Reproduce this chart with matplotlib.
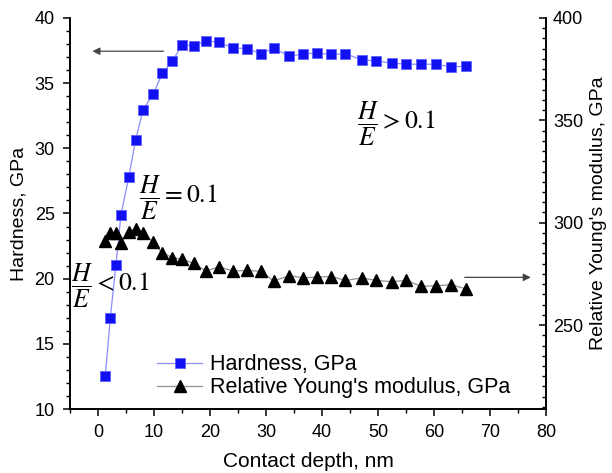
import matplotlib
matplotlib.use('Agg')
import matplotlib.pyplot as plt
from matplotlib.ticker import MultipleLocator

plt.rcParams['font.family'] = ['Liberation Sans', 'DejaVu Sans']
plt.rcParams['mathtext.fontset'] = 'stix'

# contact depth, nm
depth = [1.3, 2.2, 3.2, 4.1, 5.5, 6.7, 8.05, 9.9, 11.5, 13.3, 15.05, 17.2, 19.25,
         21.6, 24.1, 26.7, 29.2, 31.35, 34.2, 36.65, 39.1, 41.7, 44.2, 47.1,
         49.7, 52.45, 55.1, 57.75, 60.3, 63.1, 65.8]
# hardness, GPa
hardness = [12.5, 17.0, 21.05, 24.9, 27.8, 30.6, 32.95, 34.2, 35.75, 36.7, 37.95,
            37.85, 38.25, 38.15, 37.7, 37.65, 37.25, 37.7, 37.05, 37.25, 37.3,
            37.2, 37.25, 36.8, 36.7, 36.55, 36.45, 36.45, 36.45, 36.25, 36.3]
# relative Young's modulus, GPa
modulus = [291.2, 295.1, 295.0, 290.1, 295.3, 297.1, 295.0, 290.4, 285.2, 283.0,
           282.1, 280.1, 276.4, 278.4, 276.4, 276.7, 276.2, 271.6, 274.1, 273.1,
           273.4, 273.7, 271.8, 273.0, 271.8, 271.2, 271.8, 268.9, 269.2, 269.7,
           267.6]

fig = plt.figure(figsize=(6.12, 4.73), dpi=100)
ax = fig.add_axes([0.1144, 0.1353, 0.7776, 0.8267])
ax2 = ax.twinx()

h1, = ax.plot(depth, hardness, color='#8c8cff', lw=0.9, marker='s', ms=6.8,
              mfc='#1010f0', mec='#6060ff', mew=0.6, label='Hardness, GPa')
h2, = ax2.plot(depth, modulus, color='#909090', lw=0.9, marker='^', ms=8.5,
               mfc='black', mec='black', label="Relative Young's modulus, GPa")

ax.set_xlim(-5, 80)
ax.set_ylim(10, 40)
ax2.set_ylim(209, 400)

ax.xaxis.set_major_locator(MultipleLocator(10))
ax.xaxis.set_minor_locator(MultipleLocator(5))
ax.yaxis.set_major_locator(MultipleLocator(5))
ax.yaxis.set_minor_locator(MultipleLocator(1))
ax2.yaxis.set_major_locator(MultipleLocator(50))
ax2.yaxis.set_minor_locator(MultipleLocator(5))

for a in (ax, ax2):
    a.spines['top'].set_visible(False)
    for s in a.spines.values():
        s.set_linewidth(1.2)
ax.tick_params(axis='both', which='major', direction='out', length=5, width=1.1,
               labelsize=13, pad=6, top=False)
ax.tick_params(axis='both', which='minor', direction='out', length=3, width=1, top=False)
ax2.tick_params(axis='y', which='major', direction='in', length=5, width=1.1,
                labelsize=13, pad=5)
ax2.tick_params(axis='y', which='minor', direction='in', length=3, width=1)

ax.set_xlabel('Contact depth, nm', fontsize=15, labelpad=8)
ax.set_ylabel('Hardness, GPa', fontsize=14, labelpad=5)
ax2.set_ylabel("Relative Young's modulus, GPa", fontsize=14, labelpad=5)

# H/E annotations
ax.text(46.2, 31.9, r'$\dfrac{H}{E} > 0.1$', fontsize=18.5, ha='left', va='center')
ax.text(7.3, 26.2, r'$\dfrac{H}{E} = 0.1$', fontsize=18.5, ha='left', va='center')
ax.text(-4.9, 19.4, r'$\dfrac{H}{E} < 0.1$', fontsize=18.5, ha='left', va='center')

# arrows pointing to the axes
ax.annotate('', xy=(-1.5, 37.45), xytext=(12.2, 37.45),
            arrowprops=dict(arrowstyle='-|>', color='#444444', lw=0.9,
                            mutation_scale=11))
ax2.annotate('', xy=(77.8, 273.3), xytext=(65.0, 273.3),
             arrowprops=dict(arrowstyle='-|>', color='#444444', lw=0.9,
                             mutation_scale=11))

ax.legend(handles=[h1, h2], loc='upper left', bbox_to_anchor=(0.160, 0.168),
          frameon=False, fontsize=15.5, handlelength=2.1, handletextpad=0.35,
          labelspacing=0.1, borderpad=0)

fig.savefig('out.png', dpi=100)
